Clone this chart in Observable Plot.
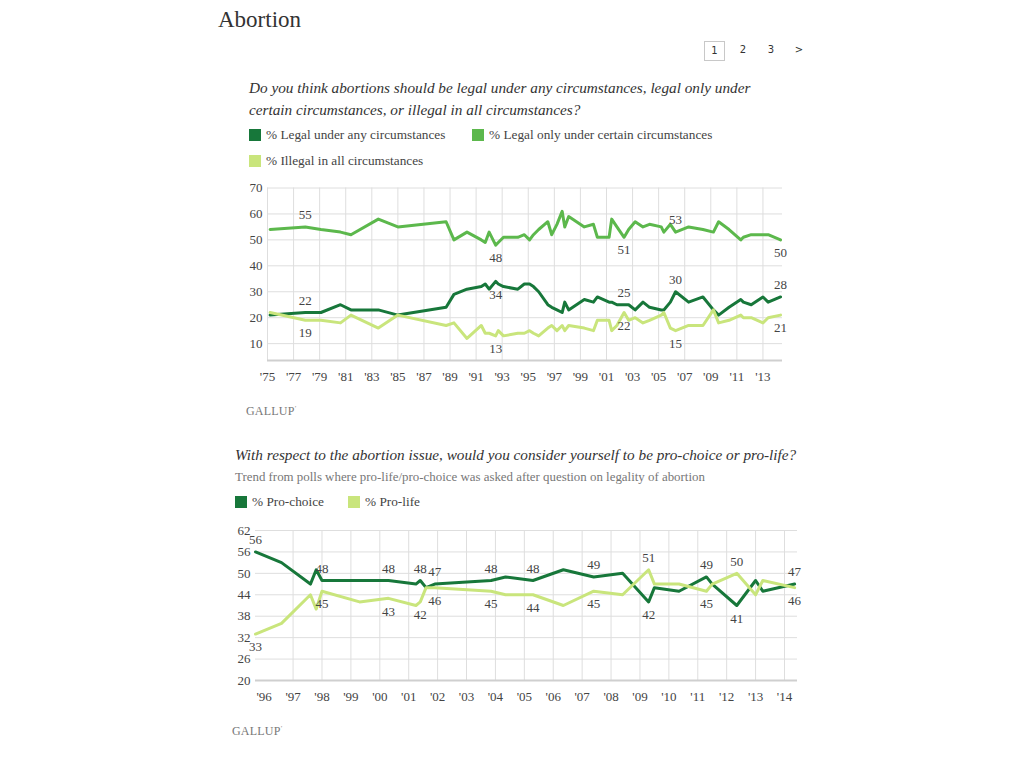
<!DOCTYPE html>
<html><head><meta charset="utf-8">
<script src="https://cdn.jsdelivr.net/npm/d3@7"></script>
<script src="https://cdn.jsdelivr.net/npm/@observablehq/plot@0.6"></script>
<style>
body{margin:0;width:1024px;height:768px;position:relative;background:#fff;font-family:"Liberation Serif",serif;color:#333;overflow:hidden}
.abs{position:absolute;white-space:nowrap}
.title{left:218px;top:5px;font-size:23px;color:#333;line-height:30px}
.pg{top:41px;font-size:10px;font-family:"DejaVu Sans",sans-serif;color:#333;line-height:18px;text-align:center}
.pg1{left:704px;width:19px;height:18px;border:1px solid #c8c8c8}
.q{font-style:italic;font-size:15.25px;color:#333;line-height:22px}
.sub{font-size:12.9px;color:#777;line-height:16px}
.leg{font-size:13.3px;color:#444;line-height:16px}
.sw{position:absolute;width:12px;height:12px}
.gallup{font-size:12px;color:#777;letter-spacing:0.2px;line-height:14px}
.chart{position:absolute}
</style></head><body>
<div class="abs title">Abortion</div>
<div class="abs pg pg1">1</div>
<div class="abs pg" style="left:736px;width:14px">2</div>
<div class="abs pg" style="left:764px;width:14px">3</div>
<div class="abs pg" style="left:792px;width:14px">&gt;</div>

<div class="abs q" style="left:249px;top:77px">Do you think abortions should be legal under any circumstances, legal only under<br>certain circumstances, or illegal in all circumstances?</div>
<div id="leg1"></div>
<div id="chart1" class="chart" style="left:230px;top:175px"></div>
<div class="abs gallup" style="left:246px;top:401px">GALLUP<sup style="font-size:6px">&#8217;</sup></div>

<div class="abs q" style="left:235px;top:444px">With respect to the abortion issue, would you consider yourself to be pro-choice or pro-life?</div>
<div class="abs sub" style="left:235px;top:469px">Trend from polls where pro-life/pro-choice was asked after question on legality of abortion</div>
<div id="leg2"></div>
<div id="chart2" class="chart" style="left:215px;top:518px"></div>
<div class="abs gallup" style="left:232px;top:721px">GALLUP<sup style="font-size:6px">&#8217;</sup></div>

<script>
// ---------- Chart 1 data: legality of abortion ----------
const topYears = [1975.2,1977.9,1979.1,1980.6,1981.4,1983.5,1985.0,1988.7,1989.3,1990.3,
  1991.4,1991.7,1992.0,1992.5,1992.7,1993.1,1994.2,1994.7,1995.1,1995.4,
  1995.8,1996.5,1996.8,1997.2,1997.6,1997.8,1998.1,1999.3,2000.0,2000.3,
  2001.2,2001.4,2001.8,2002.35,2002.7,2003.2,2003.8,2004.3,2005.2,2005.4,
  2005.9,2006.3,2007.3,2008.4,2009.2,2009.6,2010.4,2011.3,2011.5,2012.1,
  2013.0,2013.4,2014.35];
const legalAny = [21,22,22,25,23,23,21,24,29,31,
  32,33,31,34,33,32,31,33,33,32,
  30,25,24,23,22,26,23,27,26,28,
  26,26,25,25,25,23,26,24,23,23,
  26,30,26,28,23,21,24,27,26,25,
  28,26,28];
const legalCertain = [54,55,54,53,52,58,55,57,50,53,
  50,49,53,48,49,51,51,52,50,52,
  54,57,52,56,61,55,59,55,56,51,
  51,58,55,51,54,57,55,56,55,53,
  56,53,55,54,53,57,54,50,51,52,
  52,52,50];
const illegalAll = [22,19,19,18,21,16,21,17,18,12,
  17,14,14,13,15,13,14,14,15,14,
  13,16,17,15,17,15,17,16,15,19,
  19,15,17,22,19,20,18,19,21,22,
  16,15,17,17,23,18,19,21,20,20,
  18,20,21];
const topSeries = ["% Legal under any circumstances","% Legal only under certain circumstances","% Illegal in all circumstances"];
const topColors = ["#17773a","#5cb84c","#c9e57c"];
const topXTicks = [1975,1977,1979,1981,1983,1985,1987,1989,1991,1993,1995,1997,1999,2001,2003,2005,2007,2009,2011,2013];
const topYTicks = [10,20,30,40,50,60,70];
const topLabelYears = [1977.9,1992.5,2002.35,2006.3,2014.35];
const anyLabelSide = ["above","below","above","above","above"];
const certainLabelSide = ["above","below","below","above","below"];
const illegalLabelSide = ["below","below","below","below","below"];

// ---------- Chart 2 data: pro-choice / pro-life ----------
const bottomYears = [1995.7,1996.6,1997.6,1997.8,1998.0,1999.3,2000.3,2001.25,2001.4,2001.6,
  2001.9,2003.85,2004.35,2005.3,2006.35,2007.4,2008.4,2009.3,2009.5,2010.35,
  2011.3,2011.5,2012.35,2013.0,2013.25,2014.35];
const proChoice = [56,53,47,51,48,48,48,47,48,46,
  47,48,49,48,51,49,50,42,46,45,
  49,47,41,48,45,47];
const proLife = [33,36,44,40,45,42,43,41,42,46,
  46,45,44,44,41,45,44,51,47,47,
  45,47,50,44,48,46];
const bottomSeries = ["% Pro-choice","% Pro-life"];
const bottomColors = ["#17773a","#c9e57c"];
const bottomXTicks = [1996,1997,1998,1999,2000,2001,2002,2003,2004,2005,2006,2007,2008,2009,2010,2011,2012,2013,2014];
const bottomYTicks = [20,26,32,38,44,50,56,62];
const bottomLabelYears = [1995.7,1998.0,2000.3,2001.4,2001.9,2003.85,2005.3,2007.4,2009.3,2011.3,2012.35,2014.35];

// ---------- helpers ----------
function legend(el, items, colors, rows) {
  const box = document.getElementById(el);
  items.forEach((t, i) => {
    const r = rows[i];
    const sw = document.createElement("div");
    sw.className = "sw"; sw.style.left = r[0] + "px"; sw.style.top = (r[1] - 6) + "px"; sw.style.background = colors[i];
    const tx = document.createElement("div");
    tx.className = "abs leg"; tx.style.left = (r[0] + 17) + "px"; tx.style.top = (r[1] - 8) + "px"; tx.textContent = t;
    box.appendChild(sw); box.appendChild(tx);
  });
}
const yr = d => "'" + String(d).slice(2);
const toRows = (years, vals, s) => years.map((x, i) => ({x, y: vals[i], s}));
function labelRows(labelYears, years, vals, sides) {
  return labelYears.map((ly, i) => {
    const j = years.indexOf(ly);
    return {x: ly, y: vals[j], text: String(vals[j]), side: sides[i]};
  });
}
const axisStyle = {fontFamily: "Liberation Serif, serif", fontSize: "13px", color: "#444", background: "transparent", overflow: "visible"};
const gridColor = "#dedede";
const labelStyle = {fill: "#444", fontSize: 13, fontFamily: "Liberation Serif, serif"};

// ---------- Chart 1 ----------
legend("leg1", topSeries, topColors, [[249,135],[472,135],[249,161]]);
const topData = [
  ...toRows(topYears, legalAny, topSeries[0]),
  ...toRows(topYears, legalCertain, topSeries[1]),
  ...toRows(topYears, illegalAll, topSeries[2])
];
const topLabels = [
  ...labelRows(topLabelYears, topYears, legalAny, anyLabelSide),
  ...labelRows(topLabelYears, topYears, legalCertain, certainLabelSide),
  ...labelRows(topLabelYears, topYears, illegalAll, illegalLabelSide)
];
const c1 = Plot.plot({
  width: 570, height: 215,
  marginLeft: 37, marginRight: 18, marginTop: 12.5, marginBottom: 30,
  style: axisStyle,
  x: {domain: [1975, 2014.5], ticks: topXTicks, tickFormat: yr, tickSize: 0, tickPadding: 11, label: null},
  y: {domain: [3.5, 70], ticks: topYTicks, tickSize: 0, tickPadding: 5, label: null},
  color: {domain: topSeries, range: topColors},
  marks: [
    Plot.ruleX(topXTicks, {stroke: gridColor, strokeWidth: 1}),
    Plot.ruleY(topYTicks, {stroke: gridColor, strokeWidth: 1}),
    Plot.ruleY([3.5], {stroke: "#cfcfcf", strokeWidth: 2}),
    Plot.line(topData, {x: "x", y: "y", z: "s", stroke: "s", strokeWidth: 3, curve: "linear"}),
    Plot.text(topLabels.filter(d => d.side === "above"), {x: "x", y: "y", text: "text", dy: -12, ...labelStyle}),
    Plot.text(topLabels.filter(d => d.side === "below"), {x: "x", y: "y", text: "text", dy: 13, ...labelStyle})
  ]
});
document.getElementById("chart1").appendChild(c1);

// ---------- Chart 2 ----------
legend("leg2", bottomSeries, bottomColors, [[235,502],[348,502]]);
const bottomData = [
  ...toRows(bottomYears, proChoice, bottomSeries[0]),
  ...toRows(bottomYears, proLife, bottomSeries[1])
];
// larger value of the pair is labelled above, smaller below
const bottomLabels = [];
bottomLabelYears.forEach(ly => {
  const j = bottomYears.indexOf(ly);
  const a = proChoice[j], b = proLife[j];
  bottomLabels.push({x: ly, y: a, text: String(a), side: a >= b ? "above" : "below"});
  bottomLabels.push({x: ly, y: b, text: String(b), side: a >= b ? "below" : "above"});
});
const c2 = Plot.plot({
  width: 600, height: 192,
  marginLeft: 40, marginRight: 18, marginTop: 12, marginBottom: 30,
  style: axisStyle,
  x: {domain: [1995.7, 2014.45], ticks: bottomXTicks, tickFormat: yr, tickSize: 0, tickPadding: 11, label: null},
  y: {domain: [20, 62], ticks: bottomYTicks, tickSize: 0, tickPadding: 5, label: null},
  color: {domain: bottomSeries, range: bottomColors},
  marks: [
    Plot.ruleX(bottomXTicks.slice(1), {stroke: gridColor, strokeWidth: 1}),
    Plot.ruleY(bottomYTicks, {stroke: gridColor, strokeWidth: 1}),
    Plot.ruleY([20], {stroke: "#cfcfcf", strokeWidth: 2}),
    Plot.line(bottomData, {x: "x", y: "y", z: "s", stroke: "s", strokeWidth: 3, curve: "linear"}),
    Plot.text(bottomLabels.filter(d => d.side === "above"), {x: "x", y: "y", text: "text", dy: -12, ...labelStyle}),
    Plot.text(bottomLabels.filter(d => d.side === "below"), {x: "x", y: "y", text: "text", dy: 13, ...labelStyle})
  ]
});
document.getElementById("chart2").appendChild(c2);
</script>
</body></html>
